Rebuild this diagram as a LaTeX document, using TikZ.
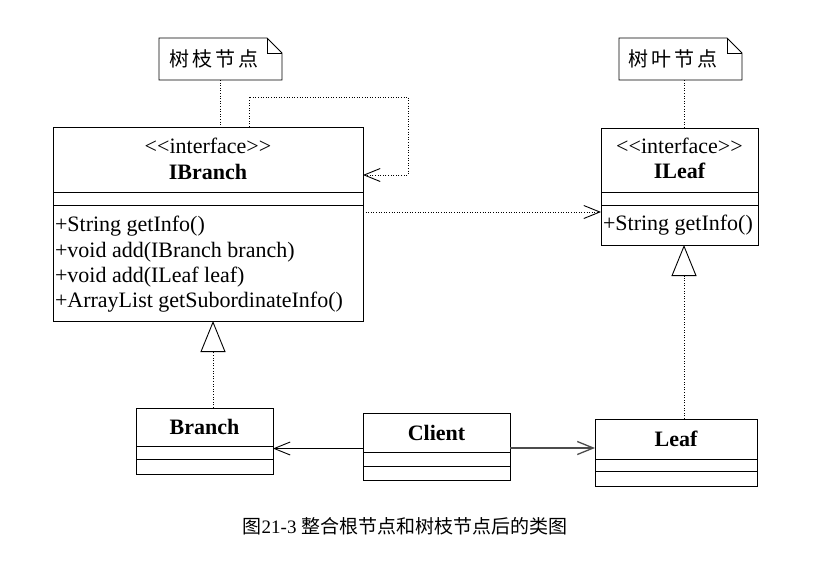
\documentclass[tikz,border=0pt]{standalone}
\usepackage{fontspec}
\setmainfont{Liberation Serif}
\newfontfamily\cjk{Noto Sans CJK SC}
\usetikzlibrary{arrows.meta}
\begin{document}
\begin{tikzpicture}[x=1pt,y=-1pt,
  every node/.style={inner sep=0pt, outer sep=0pt},
  cls/.style={draw, line width=0.9pt, rectangle},
  ln/.style={line width=0.9pt},
  txt/.style={font=\fontsize{22}{25}\selectfont, anchor=base},
  bname/.style={font=\fontsize{22}{25}\selectfont\bfseries, anchor=base},
  meth/.style={font=\fontsize{22}{25}\selectfont, anchor=base west},
  notebox/.style={minimum width=123pt, minimum height=42pt},
  notetxt/.style={font=\cjk\fontsize{20}{24}\selectfont},
  dots/.style={line width=0.8pt, dash pattern=on 1pt off 1.6pt},
  real/.style={dots, -{Triangle[open, length=31pt, width=25pt, line width=0.9pt]}},
  dep/.style={dots, -{Straight Barb[length=16pt, width=13pt, line width=0.9pt]}},
  assoc/.style={line width=0.9pt, -{Straight Barb[length=16pt, width=13pt]}},
]
\useasboundingbox (0,0) rectangle (816,571);

% class boxes
\node[cls, minimum width=310pt, minimum height=194pt] (ib) at (208,224) {};
\node[cls, minimum width=157pt, minimum height=117pt] (il) at (679.5,186.5) {};
\node[cls, minimum width=137pt, minimum height=66pt] (br) at (204.5,441) {};
\node[cls, minimum width=147pt, minimum height=67pt] (cl) at (436.5,446.5) {};
\node[cls, minimum width=162pt, minimum height=67pt] (lf) at (676,452.5) {};

% dividers
\draw[ln] (ib.west |- 0,192) -- (ib.east |- 0,192);
\draw[ln] (ib.west |- 0,205) -- (ib.east |- 0,205);
\draw[ln] (il.west |- 0,192) -- (il.east |- 0,192);
\draw[ln] (il.west |- 0,205) -- (il.east |- 0,205);
\draw[ln] (br.west |- 0,446) -- (br.east |- 0,446);
\draw[ln] (br.west |- 0,459) -- (br.east |- 0,459);
\draw[ln] (cl.west |- 0,452.5) -- (cl.east |- 0,452.5);
\draw[ln] (cl.west |- 0,466) -- (cl.east |- 0,466);
\draw[ln] (lf.west |- 0,459) -- (lf.east |- 0,459);
\draw[ln] (lf.west |- 0,471.5) -- (lf.east |- 0,471.5);

% texts
\node[txt] (ibst) at (208,153) {<{}<interface>{}>};
\node[bname] (ibn) at (208,179) {IBranch};
\node[meth] (ibm1) at (55,231) {+String getInfo()};
\node[meth] (ibm2) at (55,257) {+void add(IBranch branch)};
\node[meth] (ibm3) at (55,282) {+void add(ILeaf leaf)};
\node[meth] (ibm4) at (55,307) {+ArrayList getSubordinateInfo()};

\node[txt] (ilst) at (679.5,153) {<{}<interface>{}>};
\node[bname] (iln) at (679.5,178) {ILeaf};
\node[meth] (ilm1) at (603,230) {+String getInfo()};

\node[bname] (brn) at (204.5,434) {Branch};
\node[bname] (cln) at (436.5,440) {Client};
\node[bname] (lfn) at (676,446) {Leaf};

% notes
\node[notebox] (n1) at (220.5,59) {};
\node[notebox] (n2) at (680.5,59) {};
\foreach \n in {n1,n2}{
  \draw[ln] (\n.north west) -- ([xshift=-15pt]\n.north east) -- ([yshift=-15pt]\n.north east) -- (\n.south east) -- (\n.south west) -- cycle;
  \draw[ln] ([xshift=-15pt]\n.north east) -- ([xshift=-15pt,yshift=-15pt]\n.north east) -- ([yshift=-15pt]\n.north east);
}
\node[notetxt] (n1t) at (214,59) {树\hspace{3pt}枝\hspace{3pt}节\hspace{3pt}点};
\node[notetxt] (n2t) at (673,59) {树\hspace{3pt}叶\hspace{3pt}节\hspace{3pt}点};

% connectors
\draw[dots] (n1.south) -- (n1.south |- ib.north);
\draw[dots] ([xshift=3.5pt]n2.south) -- ([xshift=3.5pt]n2.south |- il.north);

\coordinate (la) at (249,97);
\coordinate (lb) at (408,175);
\draw[dep] (ib.north -| la) -- (la) -- (la -| lb) -- (lb) -- (lb -| ib.east);
\draw[dep] (ib.east |- 0,212) -- (il.west |- 0,212);

\draw[real] (br.north -| 213,0) -- (ib.south -| 213,0);
\draw[real] (lf.north -| 684,0) -- (il.south -| 684,0);

\draw[assoc] (cl.west |- 0,448.5) -- (br.east |- 0,448.5);
\draw[assoc, draw=gray!60!black, line width=1.3pt] (cl.east |- 0,448) -- (lf.west |- 0,448);

% caption
\node[font=\fontsize{19}{22}\selectfont, anchor=base] (cap) at (405,533) {{\cjk 图}21-3 {\cjk 整合根节点和树枝节点后的类图}};
\end{tikzpicture}
\end{document}
